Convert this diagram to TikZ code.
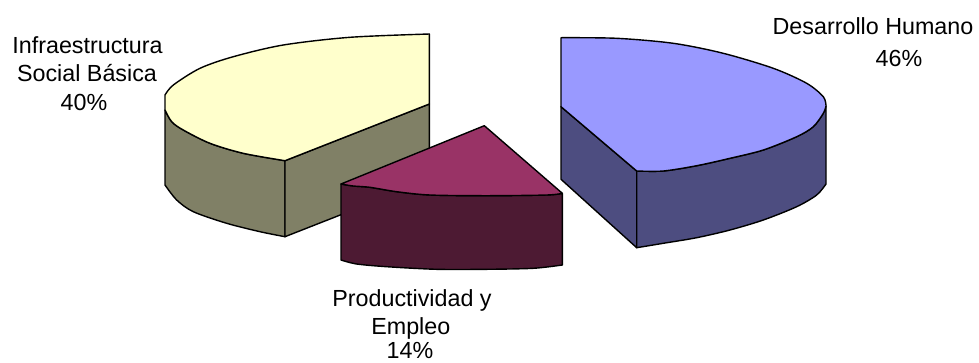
\documentclass[tikz,border=0pt]{standalone}
\usepackage{fontspec}
\setmainfont{Liberation Sans}
\definecolor{ytop}{HTML}{FFFFCC}
\definecolor{yside}{HTML}{808066}
\definecolor{btop}{HTML}{9999FF}
\definecolor{bside}{HTML}{4D4D80}
\definecolor{ptop}{HTML}{993366}
\definecolor{pside}{HTML}{4D1A33}
\tikzset{
  face/.style={draw=black, line width=1.4pt, line join=round},
  lbl/.style={anchor=base, inner sep=0pt, font=\fontsize{23.3}{28.3}\selectfont, text=black}
}
\begin{document}
\begin{tikzpicture}[x=1pt, y=-1pt]
\useasboundingbox (0,0) rectangle (979,362);
% ---- Infraestructura Social Basica (yellow) ----
\filldraw[face, fill=yside] (165,110) -- plot[smooth] coordinates {(165,110) (171.7,121.7) (183.3,130) (210,143.3) (243.3,153.3) (285,160.7)}
  -- (285,236.7) -- plot[smooth] coordinates {(285,236.7) (260,231.7) (226.7,223.3) (193.3,211.7) (176.7,200) (165,185)} -- cycle;
\filldraw[face, fill=yside] (285,160.7) -- (429.3,104) -- (429.3,180) -- (285,236.7) -- cycle;
\filldraw[face, fill=ytop] (429.3,104) -- (429.3,34) -- plot[smooth] coordinates {(429.3,34) (350,37.3) (283.3,45) (233.3,56.7) (200,68.3) (173.3,85) (165,95)}
  -- (165,110) -- plot[smooth] coordinates {(165,110) (171.7,121.7) (183.3,130) (210,143.3) (243.3,153.3) (285,160.7)} -- cycle;
% ---- Desarrollo Humano (blue) ----
\filldraw[face, fill=bside] (561,106.7) -- (636.7,171) -- (636.7,247.7) -- (561,179.3) -- cycle;
\filldraw[face, fill=bside] (636.7,171) -- plot[smooth] coordinates {(636.7,171) (663.3,171) (696.7,165.7) (730,158.3) (763.3,150) (796.7,136.7) (813.3,126.7) (823.3,113.3) (826,106)}
  -- (826,184) -- plot[smooth] coordinates {(826,184) (816.7,195) (796.7,206.7) (763.3,220) (730,230) (696.7,237.7) (663.3,243.3) (636.7,247.7)} -- cycle;
\filldraw[face, fill=btop] (636.7,171) -- (561,106.7) -- (561,37.7) -- plot[smooth] coordinates {(561,37.7) (616.7,38.3) (673.3,43.3) (723.3,53.3) (773.3,68.3) (806.7,83.3) (823.3,96.7) (826,106)}
  -- plot[smooth] coordinates {(826,106) (823.3,113.3) (813.3,126.7) (796.7,136.7) (763.3,150) (730,158.3) (696.7,165.7) (663.3,171) (636.7,171)} -- cycle;
% ---- Productividad y Empleo (pink) ----
\filldraw[face, fill=pside] (341,184) -- plot[smooth] coordinates {(341,184) (353.3,186) (370,187.3) (396.7,191.7) (430,195) (486.7,195.7) (546.7,195) (562.3,193.3)}
  -- (562.3,265) -- plot[smooth] coordinates {(562.3,265) (533.3,268.3) (486.7,269.3) (436.7,269.3) (386.7,266.7) (356.7,264) (341,260)} -- cycle;
\filldraw[face, fill=ptop] (341,184) -- (484.3,125.7) -- (562.3,193.3) -- plot[smooth] coordinates {(562.3,193.3) (546.7,195) (486.7,195.7) (430,195) (396.7,191.7) (370,187.3) (353.3,186) (341,184)} -- cycle;
% ---- labels ----
\node[lbl] (l1a) at (87.5,53.3) {Infraestructura};
\node[lbl] (l1b) at (87,81.7) {Social Básica};
\node[lbl] (l1c) at (84,110) {40\%};
\node[lbl] (l2a) at (873,34) {Desarrollo Humano};
\node[lbl] (l2b) at (899,66.7) {46\%};
\node[lbl] (l3a) at (412,306.7) {Productividad y};
\node[lbl] (l3b) at (410.8,334) {Empleo};
\node[lbl] (l3c) at (410,358) {14\%};
\end{tikzpicture}
\end{document}
